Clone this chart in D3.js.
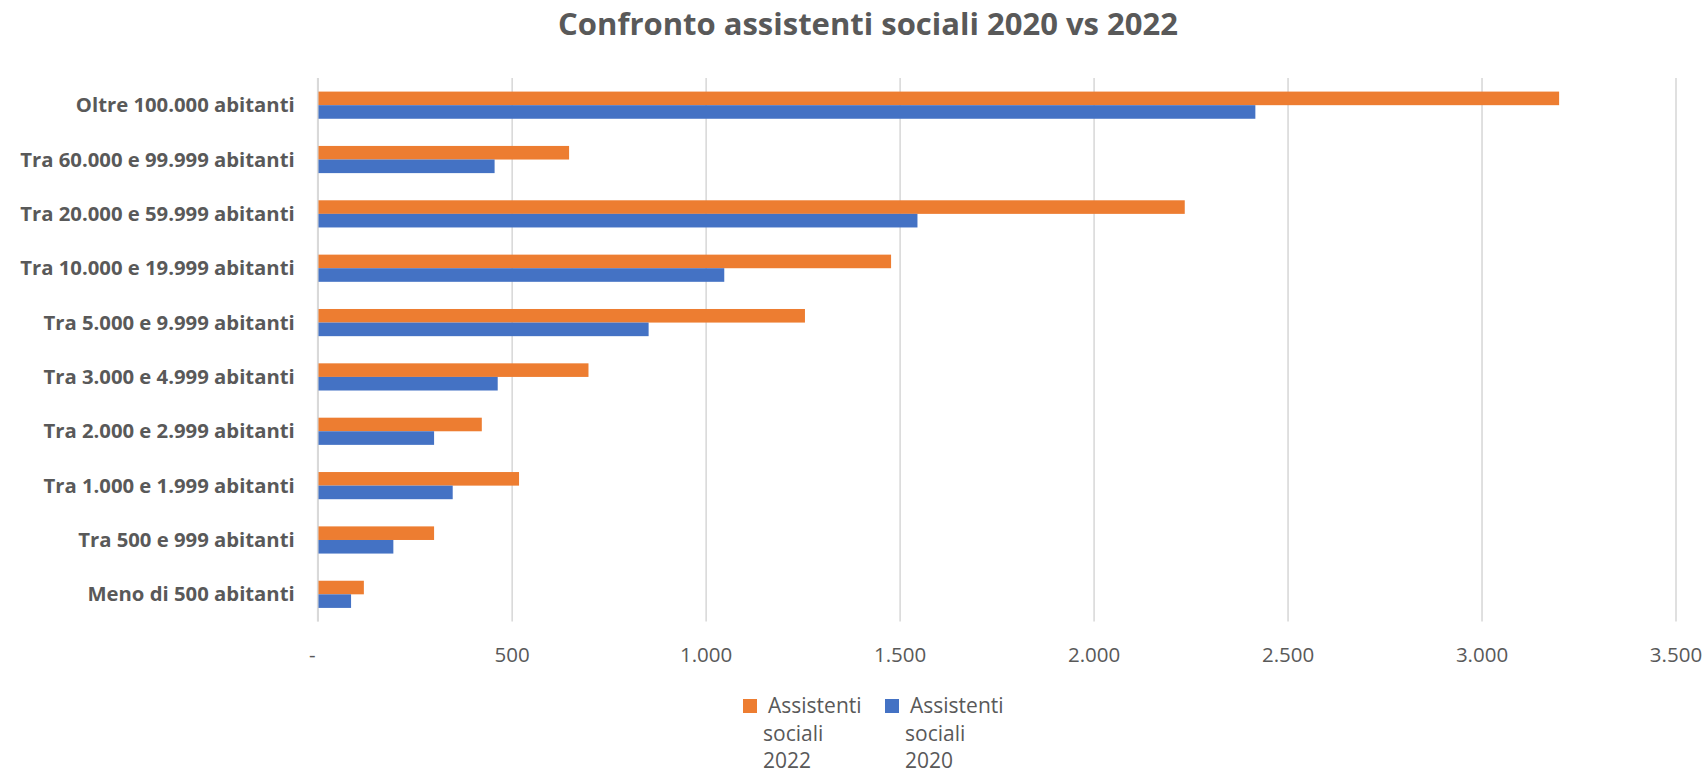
<!DOCTYPE html>
<html>
<head>
<meta charset="utf-8">
<script src="https://cdn.jsdelivr.net/npm/d3@7"></script>
<style>
  body { margin: 0; background: #ffffff; }
  svg { display: block; }
  text { font-family: "Open Sans", "Liberation Sans", sans-serif; fill: #595959; }
</style>
</head>
<body>
<svg id="chart" width="1706" height="774"></svg>
<script>
// ---- data ----
const title = "Confronto assistenti sociali 2020 vs 2022";
const categories = [
  "Oltre 100.000 abitanti",
  "Tra 60.000 e 99.999 abitanti",
  "Tra 20.000 e 59.999 abitanti",
  "Tra 10.000 e 19.999 abitanti",
  "Tra 5.000 e 9.999 abitanti",
  "Tra 3.000 e 4.999 abitanti",
  "Tra 2.000 e 2.999 abitanti",
  "Tra 1.000 e 1.999 abitanti",
  "Tra 500 e 999 abitanti",
  "Meno di 500 abitanti"
];
const values2022 = [3200, 648, 2235, 1478, 1256, 698, 423, 519, 300, 119];
const values2020 = [2417, 456, 1546, 1048, 853, 464, 300, 348, 195, 86];
const seriesKeys = ["2022", "2020"];
const seriesNames = ["Assistenti sociali 2022", "Assistenti sociali 2020"];
const seriesColors = ["#ED7D31", "#4472C4"];
const xTicks = [0, 500, 1000, 1500, 2000, 2500, 3000, 3500];

// ---- layout ----
const plot = { left: 317.7, right: 1675.5, top: 78, bottom: 621.5 };

const svg = d3.select("#chart");

const x = d3.scaleLinear().domain([0, 3500]).range([plot.left, plot.right]);
const y = d3.scaleBand().domain(categories).range([plot.top, plot.bottom]).padding(0);
const ySub = d3.scaleBand().domain(seriesKeys).range([0, y.bandwidth()])
  .paddingInner(0).paddingOuter(1);

const fmt = v => v === 0 ? "-" : d3.format(",")(v).replace(/,/g, ".");

// gridlines
const grid = svg.append("g")
  .attr("transform", `translate(0,${plot.bottom})`)
  .call(d3.axisBottom(x).tickValues(xTicks).tickSize(-(plot.bottom - plot.top)).tickFormat(""));
grid.select(".domain").remove();
grid.selectAll("line").attr("stroke", "#d9d9d9").attr("stroke-width", 1.6);

// bars
const rows = categories.map((c, i) => ({ cat: c, vals: [values2022[i], values2020[i]] }));
const rowG = svg.append("g").selectAll("g").data(rows).join("g")
  .attr("transform", d => `translate(0,${y(d.cat)})`);
rowG.selectAll("rect")
  .data(d => d.vals.map((v, k) => ({ key: seriesKeys[k], v, color: seriesColors[k] })))
  .join("rect")
  .attr("x", x(0))
  .attr("y", d => ySub(d.key))
  .attr("width", d => x(d.v) - x(0))
  .attr("height", ySub.bandwidth())
  .attr("fill", d => d.color);

// vertical axis line
svg.append("line")
  .attr("x1", x(0)).attr("x2", x(0))
  .attr("y1", plot.top).attr("y2", plot.bottom)
  .attr("stroke", "#d9d9d9").attr("stroke-width", 1.6);

// category labels
const yAxis = svg.append("g")
  .attr("transform", `translate(${x(0)},0)`)
  .call(d3.axisLeft(y).tickSize(0).tickPadding(23));
yAxis.select(".domain").remove();
yAxis.selectAll("text")
  .attr("font-size", 20.3)
  .attr("font-weight", "bold")
  .attr("fill", "#595959")
  .attr("font-family", "Open Sans")
  .attr("dy", "0.35em");

// x tick labels
const xAxis = svg.append("g")
  .attr("transform", `translate(0,${plot.bottom})`)
  .call(d3.axisBottom(x).tickValues(xTicks).tickSize(0).tickPadding(20).tickFormat(fmt));
xAxis.select(".domain").remove();
xAxis.selectAll("text")
  .attr("font-size", 20.5)
  .attr("fill", "#595959")
  .attr("font-family", "Open Sans")
  .attr("dy", "1.0em")
  .attr("dx", d => d === 0 ? -6 : 0);

// title
svg.append("text")
  .attr("x", 868).attr("y", 35)
  .attr("text-anchor", "middle")
  .attr("font-size", 31)
  .attr("font-weight", "bold")
  .text(title);

// legend
const leg = svg.append("g");
const legItems = leg.selectAll("g").data(seriesNames).join("g")
  .attr("transform", (d, i) => `translate(${743 + i * 142},0)`);
legItems.append("rect")
  .attr("x", 0).attr("y", 699).attr("width", 14).attr("height", 14)
  .attr("fill", (d, i) => seriesColors[i]);
const lt = legItems.append("text").attr("font-size", 21);
lt.selectAll("tspan").data(d => d.split(" ")).join("tspan")
  .attr("x", (d, j) => j === 0 ? 25 : 20)
  .attr("y", (d, j) => 713 + j * 27.5)
  .text(d => d);
</script>
</body>
</html>
